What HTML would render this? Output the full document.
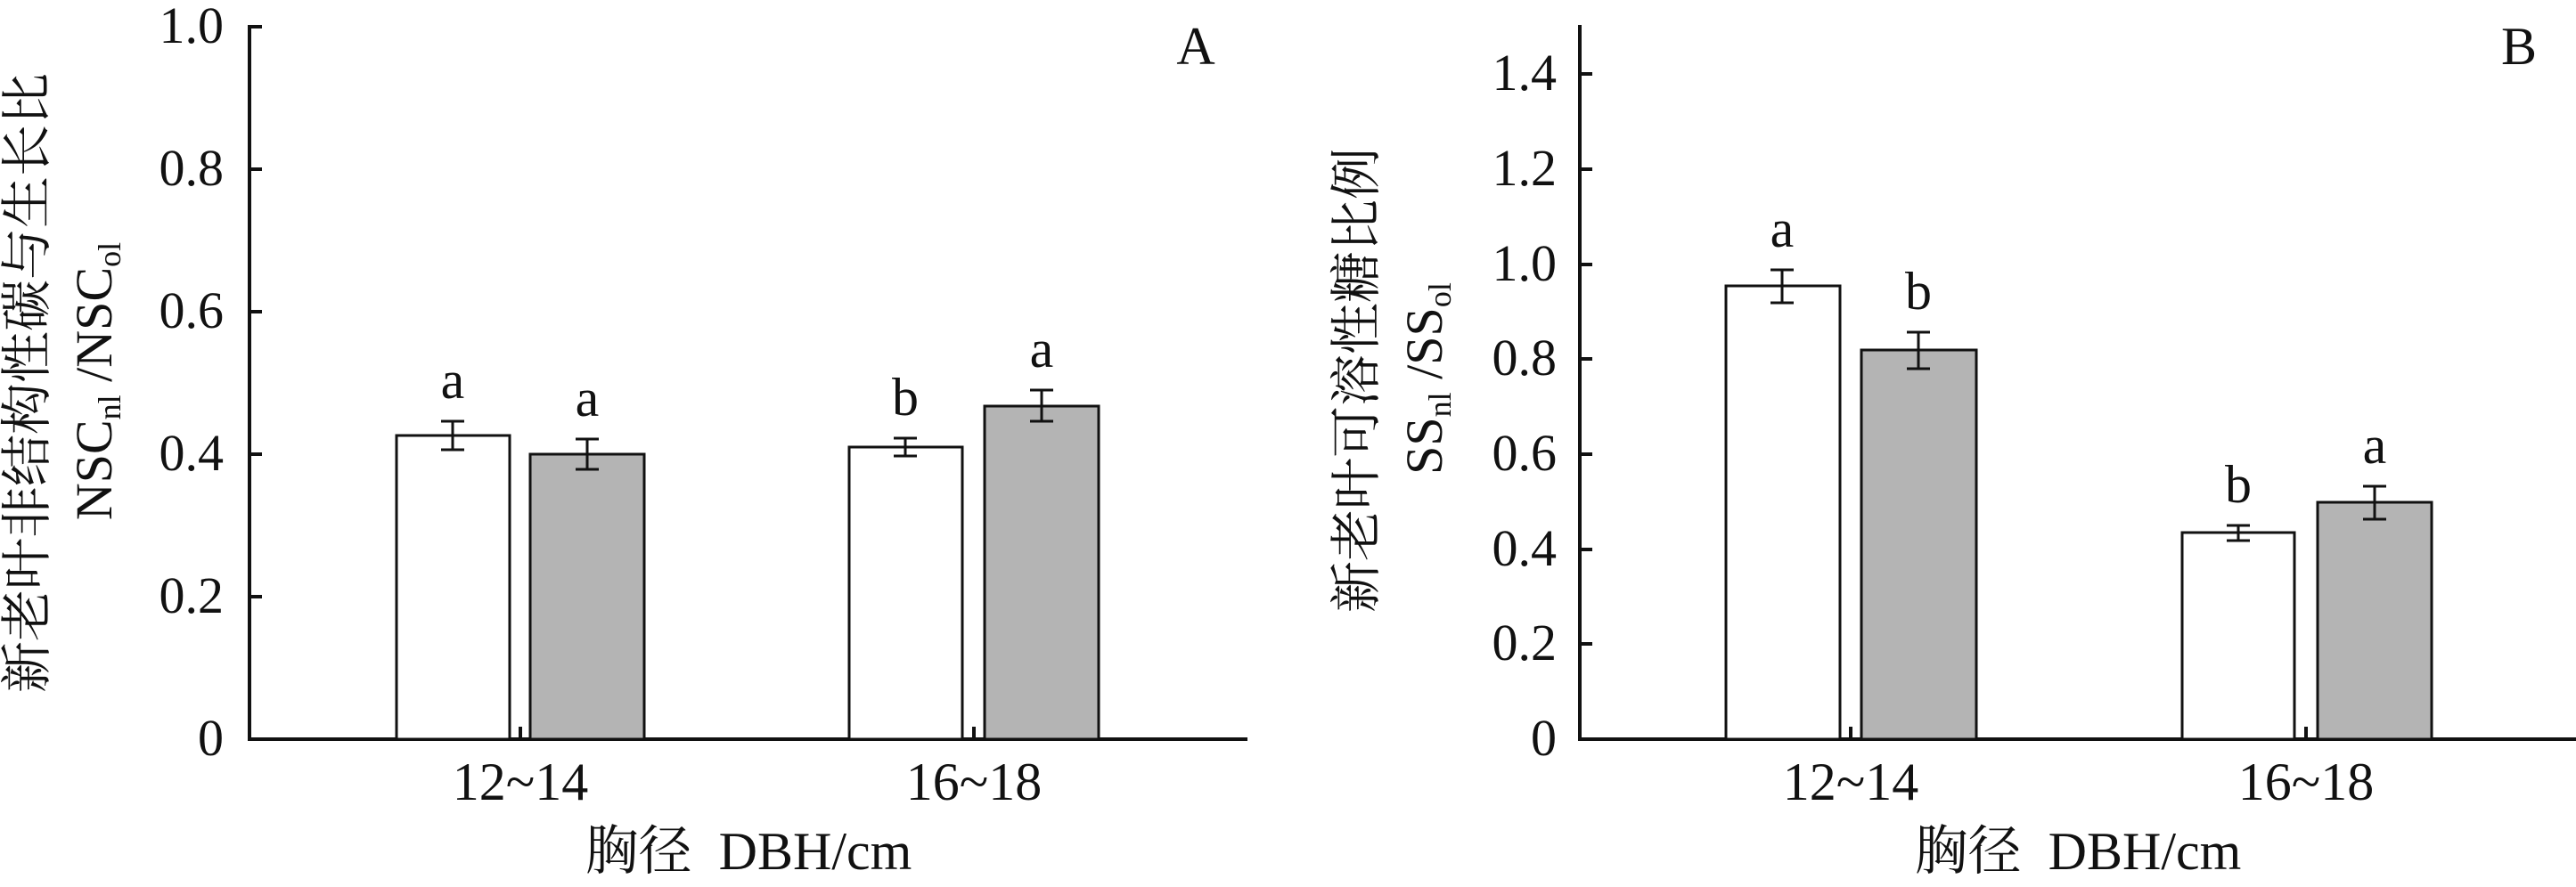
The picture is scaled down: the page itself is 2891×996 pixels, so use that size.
<!DOCTYPE html>
<html><head><meta charset="utf-8"><style>
html,body{margin:0;padding:0;background:#fff;}
svg{display:block;}
text{font-family:"Liberation Serif","Noto Serif CJK SC",serif;fill:#111;}
.cn{font-family:"Liberation Serif","Noto Serif CJK SC","Noto Sans CJK SC",serif;}
</style></head><body>
<svg width="2891" height="996" viewBox="0 0 2891 996" xmlns="http://www.w3.org/2000/svg">
<!-- ===== Chart A ===== -->
<g stroke="#111" stroke-width="4" fill="none">
<line x1="280" y1="28" x2="280" y2="832"/>
<line x1="278" y1="830" x2="1400" y2="830"/>
<line x1="280" y1="30" x2="294" y2="30"/>
<line x1="280" y1="190" x2="294" y2="190"/>
<line x1="280" y1="350" x2="294" y2="350"/>
<line x1="280" y1="510" x2="294" y2="510"/>
<line x1="280" y1="670" x2="294" y2="670"/>
<line x1="584" y1="830" x2="584" y2="816"/>
<line x1="1093" y1="830" x2="1093" y2="816"/>
</g>
<g font-size="58" text-anchor="end">
<text x="251" y="48">1.0</text>
<text x="251" y="208">0.8</text>
<text x="251" y="368">0.6</text>
<text x="251" y="528">0.4</text>
<text x="251" y="688">0.2</text>
<text x="251" y="848">0</text>
</g>
<g stroke="#111" stroke-width="3">
<rect x="445" y="489" width="127" height="341" fill="#fff"/>
<rect x="595" y="510" width="128" height="320" fill="#b4b4b4"/>
<rect x="953" y="502" width="127" height="328" fill="#fff"/>
<rect x="1105" y="456" width="128" height="374" fill="#b4b4b4"/>
<path d="M508 473V505M495 473H521M495 505H521" fill="none"/>
<path d="M659 493V527M646 493H672M646 527H672" fill="none"/>
<path d="M1016 492V512M1003 492H1029M1003 512H1029" fill="none"/>
<path d="M1169 438V473M1156 438H1182M1156 473H1182" fill="none"/>
</g>
<g font-size="60" text-anchor="middle">
<text x="508" y="447">a</text>
<text x="659" y="467">a</text>
<text x="1016" y="466">b</text>
<text x="1169" y="412">a</text>
<text x="1342" y="72">A</text>
<text x="584" y="898">12~14</text>
<text x="1093" y="898">16~18</text>
<text x="840" y="976" class="cn" xml:space="preserve">胸径  DBH/cm</text>
</g>
<text class="cn" font-size="58" text-anchor="middle" transform="translate(50,430) rotate(-90)">新老叶非结构性碳与生长比</text>
<text font-size="58" text-anchor="middle" transform="translate(125,428) rotate(-90)">NSC<tspan font-size="36" dy="10">nl</tspan><tspan dy="-10"> /NSC</tspan><tspan font-size="36" dy="10">ol</tspan></text>

<!-- ===== Chart B ===== -->
<g stroke="#111" stroke-width="4" fill="none">
<line x1="1773" y1="28" x2="1773" y2="832"/>
<line x1="1771" y1="830" x2="2891" y2="830"/>
<line x1="1773" y1="83" x2="1787" y2="83"/>
<line x1="1773" y1="190" x2="1787" y2="190"/>
<line x1="1773" y1="297" x2="1787" y2="297"/>
<line x1="1773" y1="403" x2="1787" y2="403"/>
<line x1="1773" y1="510" x2="1787" y2="510"/>
<line x1="1773" y1="617" x2="1787" y2="617"/>
<line x1="1773" y1="723" x2="1787" y2="723"/>
<line x1="2077" y1="830" x2="2077" y2="816"/>
<line x1="2588" y1="830" x2="2588" y2="816"/>
</g>
<g font-size="58" text-anchor="end">
<text x="1747" y="101">1.4</text>
<text x="1747" y="208">1.2</text>
<text x="1747" y="315">1.0</text>
<text x="1747" y="421">0.8</text>
<text x="1747" y="528">0.6</text>
<text x="1747" y="635">0.4</text>
<text x="1747" y="741">0.2</text>
<text x="1747" y="848">0</text>
</g>
<g stroke="#111" stroke-width="3">
<rect x="1937" y="321" width="128" height="509" fill="#fff"/>
<rect x="2089" y="393" width="129" height="437" fill="#b4b4b4"/>
<rect x="2449" y="598" width="126" height="232" fill="#fff"/>
<rect x="2601" y="564" width="128" height="266" fill="#b4b4b4"/>
<path d="M2000 303V340M1987 303H2013M1987 340H2013" fill="none"/>
<path d="M2153 373V414M2140 373H2166M2140 414H2166" fill="none"/>
<path d="M2512 590V607M2499 590H2525M2499 607H2525" fill="none"/>
<path d="M2665 546V583M2652 546H2678M2652 583H2678" fill="none"/>
</g>
<g font-size="60" text-anchor="middle">
<text x="2000" y="277">a</text>
<text x="2153" y="347">b</text>
<text x="2512" y="564">b</text>
<text x="2665" y="520">a</text>
<text x="2827" y="72">B</text>
<text x="2077" y="898">12~14</text>
<text x="2588" y="898">16~18</text>
<text x="2332" y="976" class="cn" xml:space="preserve">胸径  DBH/cm</text>
</g>
<text class="cn" font-size="58" text-anchor="middle" transform="translate(1542,427) rotate(-90)">新老叶可溶性糖比例</text>
<text font-size="58" text-anchor="middle" transform="translate(1618,425) rotate(-90)">SS<tspan font-size="36" dy="10">nl</tspan><tspan dy="-10"> /SS</tspan><tspan font-size="36" dy="10">ol</tspan></text>
</svg>
</body></html>
